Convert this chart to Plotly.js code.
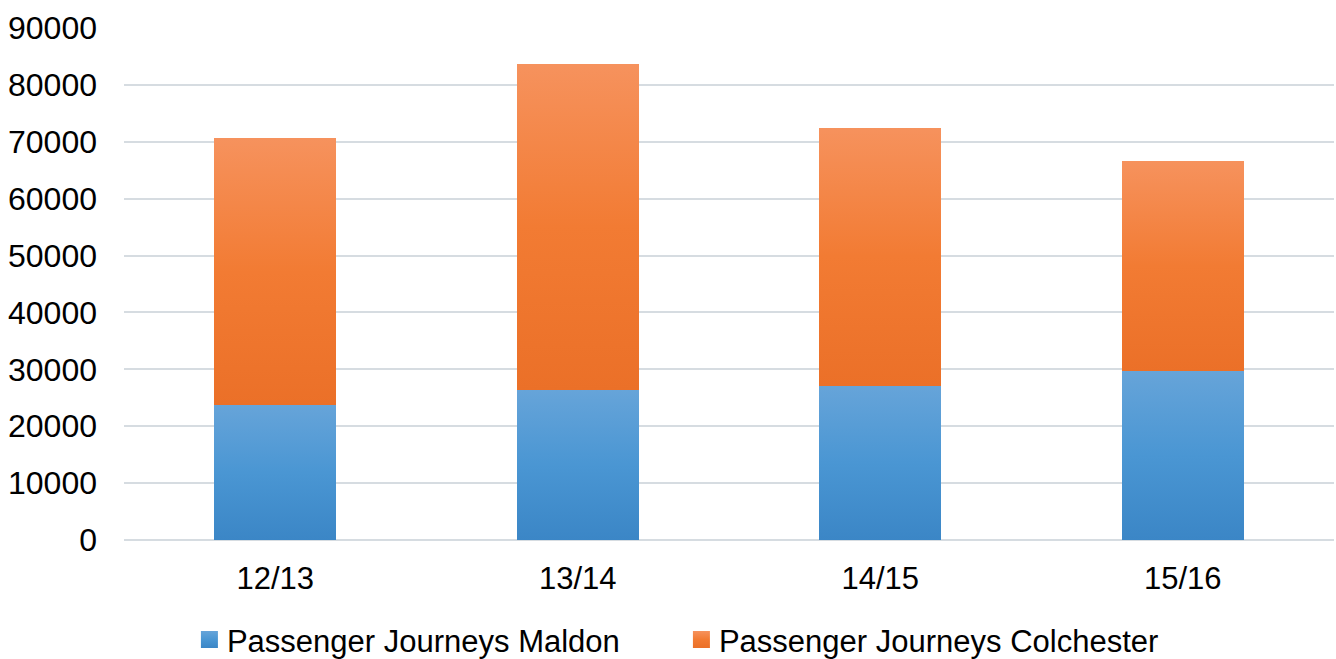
<!DOCTYPE html>
<html>
<head>
<meta charset="utf-8">
<script src="https://cdn.plot.ly/plotly-3.0.1.min.js"></script>
<style>
html,body{margin:0;padding:0;background:#fff;}
#chart{width:1336px;height:659px;}
</style>
</head>
<body>
<div id="chart"></div>
<script>
const categories = ['12/13', '13/14', '14/15', '15/16'];
const maldon = [23650, 26350, 27050, 29630];
const colchester = [46930, 57240, 45460, 36910];
const seriesNames = ['Passenger Journeys Maldon', 'Passenger Journeys Colchester'];
const yTicks = [0, 10000, 20000, 30000, 40000, 50000, 60000, 70000, 80000, 90000];

const font = {family: 'Liberation Sans, Arial, sans-serif', size: 31, color: '#000'};
const yfont = {family: 'Liberation Sans, Arial, sans-serif', size: 32, color: '#000'};

const traces = [
  {type: 'bar', name: seriesNames[0], x: categories, y: maldon,
   marker: {color: '#4f95d0', line: {width: 0}}, hoverinfo: 'none'},
  {type: 'bar', name: seriesNames[1], x: categories, y: colchester,
   marker: {color: '#f07f3b', line: {width: 0}}, hoverinfo: 'none'}
];

const layout = {
  width: 1336, height: 659,
  margin: {l: 124, r: 2, t: 28, b: 119, autoexpand: false},
  barmode: 'stack',
  bargap: 0.597,
  paper_bgcolor: '#fff', plot_bgcolor: '#fff',
  font: font,
  showlegend: true,
  legend: {orientation: 'h', traceorder: 'normal', x: 0.052, xanchor: 'left',
           yref: 'container', y: 0.07, yanchor: 'top',
           font: font, entrywidth: 447, entrywidthmode: 'pixels', itemclick: false},
  xaxis: {type: 'category', showgrid: false, zeroline: false, showline: false,
          ticks: '', tickfont: font, ticklabelstandoff: 17},
  yaxis: {range: [0, 90000], tickvals: yTicks, ticktext: yTicks.map(String),
          showgrid: true, gridcolor: '#d6dce1', gridwidth: 2,
          zeroline: true, zerolinecolor: '#d6dce1', zerolinewidth: 2,
          showline: false, ticks: '', tickfont: yfont, ticklabelstandoff: 26}
};

Plotly.newPlot('chart', traces, layout, {displayModeBar: false, staticPlot: true}).then(function(gd){
  const svg = gd.querySelector('.main-svg');
  const ns = 'http://www.w3.org/2000/svg';
  let defs = svg.querySelector('defs');
  if (!defs) { defs = document.createElementNS(ns, 'defs'); svg.insertBefore(defs, svg.firstChild); }
  const grads = {};
  grads[seriesNames[0]] = {id: 'gMaldon', stops: [[0, '#66a4d9'], [0.5, '#4a96d3'], [1, '#3b86c6']]};
  grads[seriesNames[1]] = {id: 'gColch', stops: [[0, '#f6925d'], [0.5, '#f27b33'], [1, '#eb7028']]};
  Object.keys(grads).forEach(function(k){
    const g = grads[k];
    const lg = document.createElementNS(ns, 'linearGradient');
    lg.setAttribute('id', g.id);
    lg.setAttribute('x1', '0'); lg.setAttribute('y1', '0');
    lg.setAttribute('x2', '0'); lg.setAttribute('y2', '1');
    g.stops.forEach(function(s){
      const st = document.createElementNS(ns, 'stop');
      st.setAttribute('offset', s[0]);
      st.setAttribute('stop-color', s[1]);
      lg.appendChild(st);
    });
    defs.appendChild(lg);
  });
  gd.querySelectorAll('.barlayer .trace').forEach(function(t){
    const d = t.__data__;
    const name = d && d[0] && d[0].trace ? d[0].trace.name : null;
    if (!name || !grads[name]) return;
    t.querySelectorAll('path').forEach(function(p){ p.style.fill = 'url(#' + grads[name].id + ')'; });
  });
  gd.querySelectorAll('.legend .traces').forEach(function(t){
    const d = t.__data__;
    const name = d && d[0] && d[0].trace ? d[0].trace.name : null;
    if (!name || !grads[name]) return;
    t.querySelectorAll('.legendpoints path').forEach(function(p){
      p.setAttribute('d', 'M11,8.5H-6V-8.5H11Z');
      p.style.fill = 'url(#' + grads[name].id + ')';
    });
  });
});
</script>
</body>
</html>
